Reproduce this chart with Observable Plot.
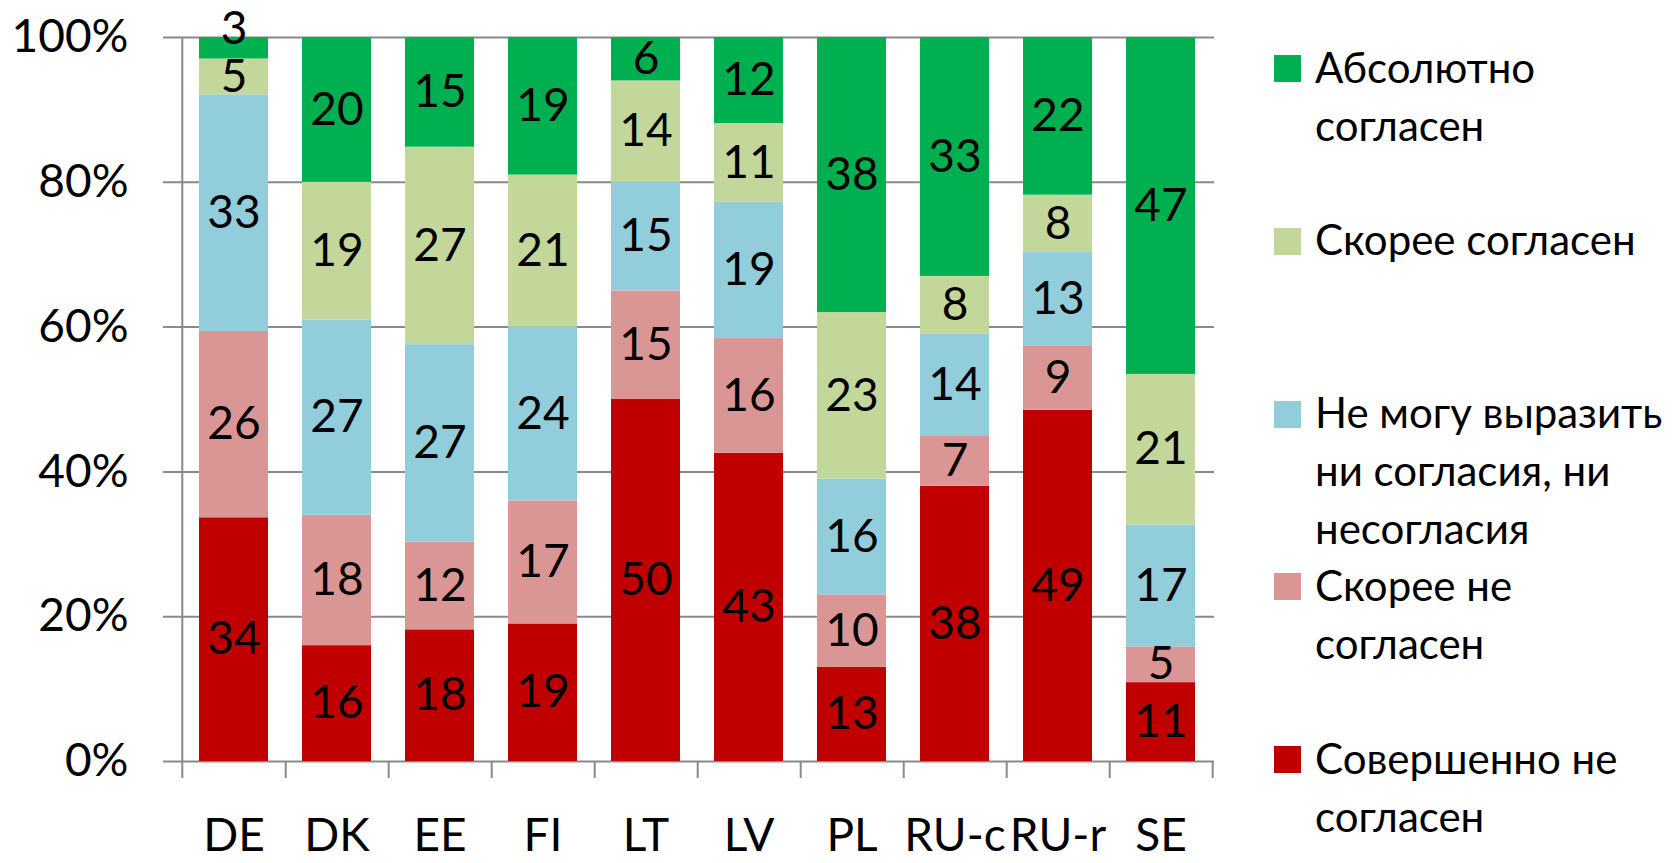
<!DOCTYPE html>
<html><head><meta charset="utf-8">
<script src="https://cdn.jsdelivr.net/npm/d3@7"></script>
<script src="https://cdn.jsdelivr.net/npm/@observablehq/plot@0.6"></script>
<style>
body{margin:0;background:#fff;}
#wrap{position:relative;width:1680px;height:863px;overflow:hidden;font-family:Lato,"Noto Sans",sans-serif;}
#wrap svg{position:absolute;left:0;top:0}
.sw{position:absolute;left:1274px;width:27px;height:27px}
.lt{position:absolute;left:1315px;font-size:42px;line-height:58px;color:#000;white-space:nowrap}
</style></head><body><div id="wrap"></div>
<script>
const countries = ["DE","DK","EE","FI","LT","LV","PL","RU-c","RU-r","SE"];
const categories = ["Совершенно не согласен","Скорее не согласен","Не могу выразить ни согласия, ни несогласия","Скорее согласен","Абсолютно согласен"];
const completelyDisagree = [34,16,18,19,50,43,13,38,49,11];
const ratherDisagree     = [26,18,12,17,15,16,10,7,9,5];
const neither            = [33,27,27,24,15,19,16,14,13,17];
const ratherAgree        = [5,19,27,21,14,11,23,8,8,21];
const absolutelyAgree    = [3,20,15,19,6,12,38,33,22,47];
const colors = ["#C00000","#DA9694","#92CDDC","#C4D79B","#00B050"];
const legendOrder = [4,3,2,1,0];
const legendLines = [["Абсолютно","согласен"],["Скорее согласен"],["Не могу выразить","ни согласия, ни","несогласия"],["Скорее не","согласен"],["Совершенно не","согласен"]];
const yTicks = [0,0.2,0.4,0.6,0.8,1];

const series = [completelyDisagree, ratherDisagree, neither, ratherAgree, absolutelyAgree];
const rows = [];
countries.forEach((c, i) => series.forEach((s, k) => rows.push({country: c, category: categories[k], value: s[i]})));

const W = 1680, H = 863, mL = 180, mR = 466, mT = 37, mB = 102;
const step = (W - mL - mR) / countries.length;
const tickLen = 17 / (H - mT - mB);
const FONT = "Lato, 'Noto Sans', sans-serif";

const isShifted = d => d.country === "DE" && d.category === categories[4];

const chart = Plot.plot({
  width: W, height: H,
  marginLeft: mL, marginRight: mR, marginTop: mT, marginBottom: mB,
  style: {fontFamily: FONT, fontSize: "46px", color: "#000", background: "transparent", overflow: "visible"},
  x: {domain: countries, paddingInner: 0.333, paddingOuter: 0.1665, label: null},
  y: {domain: [0, 1], label: null},
  color: {domain: categories, range: colors},
  marks: [
    Plot.ruleY(yTicks, {y: d => d, stroke: "#898989", strokeWidth: 2, insetLeft: -17}),
    Plot.barY(rows, {x: "country", y: "value", fill: "category", offset: "normalize"}),
    Plot.ruleX([countries[0]], {x: d => d, y1: -tickLen, y2: 1, dx: -step / 2, stroke: "#898989", strokeWidth: 2}),
    Plot.ruleX(countries, {x: d => d, y1: -tickLen, y2: 0, dx: step / 2, stroke: "#898989", strokeWidth: 2}),
    Plot.text(rows, Plot.stackY({x: "country", y: "value", z: "category", text: d => isShifted(d) ? "" : String(d.value), offset: "normalize", fontSize: 46, fill: "#000"})),
    Plot.text(rows, Plot.stackY({x: "country", y: "value", z: "category", text: d => isShifted(d) ? String(d.value) : "", offset: "normalize", fontSize: 46, fill: "#000", dy: -19})),
    Plot.axisY({ticks: yTicks, tickFormat: d => `${Math.round(d * 100)}%`, tickSize: 0, tickPadding: 52, fontSize: 46, label: null}),
    Plot.axisX({tickSize: 0, tickPadding: 57, fontSize: 46, label: null})
  ]
});

const wrap = document.getElementById("wrap");
wrap.appendChild(chart);
legendOrder.forEach((k, i) => {
  const cy = 68.5 + i * 172.75;
  const sw = document.createElement("div");
  sw.className = "sw";
  sw.style.top = (cy - 13.5) + "px";
  sw.style.background = colors[k];
  wrap.appendChild(sw);
  const t = document.createElement("div");
  t.className = "lt";
  t.style.top = (cy - 31) + "px";
  t.innerHTML = legendLines[i].join("<br>");
  wrap.appendChild(t);
});
</script></body></html>
